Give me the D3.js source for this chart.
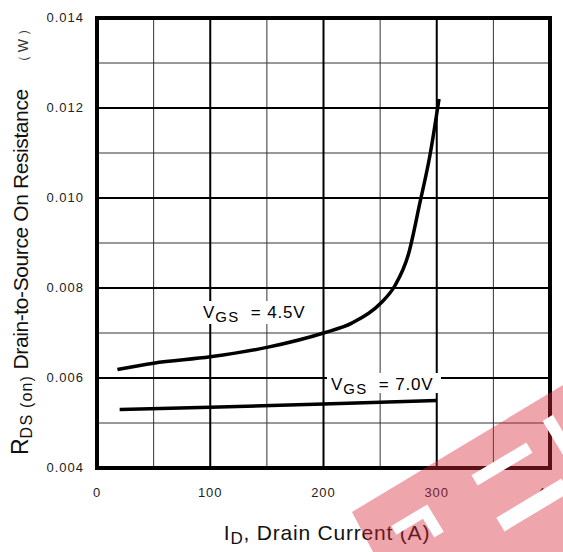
<!DOCTYPE html>
<html lang="en">
<head>
<meta charset="UTF-8">
<script src="https://cdn.jsdelivr.net/npm/d3@7.8.5/dist/d3.min.js"></script>
<title>RDS(on) vs Drain Current</title>
<style>
  body { margin: 0; background: #fff; }
  text { font-family: "Liberation Sans", Arial, sans-serif; white-space: pre; }
</style>
</head>
<body>
<svg width="563" height="552"></svg>
<script>
// data
var xTicks = [0, 100, 200, 300, 400];
var yTicks = [0.004, 0.006, 0.008, 0.010, 0.012, 0.014];
var xMinor = [50, 150, 250, 350];
var yMinor = [0.005, 0.007, 0.009, 0.011, 0.013];

var id45 = [18, 50, 100, 150, 200, 225, 250, 263, 275, 285, 294, 302];
var r45  = [0.00619, 0.00633, 0.00647, 0.00668, 0.00700, 0.00722, 0.00765, 0.00805, 0.00875, 0.00988, 0.01095, 0.0122];
var id70 = [20, 100, 200, 300];
var r70  = [0.00530, 0.00535, 0.00542, 0.00550];

var svg = d3.select("svg");
var pL = 97, pR = 550, pT = 18, pB = 468;

var x = d3.scaleLinear().domain([0, 400]).range([pL, pR]);
var y = d3.scaleLinear().domain([0.004, 0.014]).range([pB, pT]);

var g = svg.append("g");

// minor grid
g.selectAll(".vmin").data(xMinor).enter().append("line")
  .attr("x1", d => x(d)).attr("x2", d => x(d)).attr("y1", pT).attr("y2", pB)
  .attr("stroke", "#333").attr("stroke-width", 1);
g.selectAll(".hmin").data(yMinor).enter().append("line")
  .attr("y1", d => y(d)).attr("y2", d => y(d)).attr("x1", pL).attr("x2", pR)
  .attr("stroke", "#333").attr("stroke-width", 1);
// major grid
g.selectAll(".vmaj").data(xTicks.slice(1, -1)).enter().append("line")
  .attr("x1", d => x(d)).attr("x2", d => x(d)).attr("y1", pT).attr("y2", pB)
  .attr("stroke", "#000").attr("stroke-width", 2);
g.selectAll(".hmaj").data(yTicks.slice(1, -1)).enter().append("line")
  .attr("y1", d => y(d)).attr("y2", d => y(d)).attr("x1", pL).attr("x2", pR)
  .attr("stroke", "#000").attr("stroke-width", 2);

// curves
var line = d3.line().x(d => x(d[0])).y(d => y(d[1])).curve(d3.curveMonotoneX);
g.append("path").datum(d3.zip(id45, r45)).attr("d", line)
  .attr("fill", "none").attr("stroke", "#000").attr("stroke-width", 3.5);
g.append("path").datum(d3.zip(id70, r70)).attr("d", line)
  .attr("fill", "none").attr("stroke", "#000").attr("stroke-width", 3.5);

// curve labels with white backing
function curveLabel(px, py, val, bw, bh) {
  g.append("rect").attr("x", px - 4).attr("y", py - 17).attr("width", bw).attr("height", bh).attr("fill", "#fff");
  var t = g.append("text").attr("x", px).attr("y", py).attr("font-size", 17)
    .attr("letter-spacing", 0.8).attr("fill", "#000");
  t.append("tspan").text("V");
  t.append("tspan").attr("font-size", 15).attr("dy", 4).attr("letter-spacing", 1.5).text("GS");
  t.append("tspan").attr("dy", -4).text("  = " + val);
}
curveLabel(203, 318, "4.5V", 120, 23);
curveLabel(331, 390, "7.0V", 114, 20);

// frame
g.append("rect").attr("x", pL).attr("y", pT).attr("width", pR - pL).attr("height", pB - pT)
  .attr("fill", "none").attr("stroke", "#000").attr("stroke-width", 4);

// tick labels
g.selectAll(".yl").data(yTicks).enter().append("text")
  .attr("x", 84).attr("y", d => y(d) + 4).attr("text-anchor", "end")
  .attr("font-size", 13).attr("letter-spacing", 1).attr("fill", "#222")
  .text(d => d3.format(".3f")(d));
g.selectAll(".xl").data(xTicks).enter().append("text")
  .attr("x", d => x(d)).attr("y", 497).attr("text-anchor", "middle")
  .attr("font-size", 13).attr("letter-spacing", 1).attr("fill", "#222")
  .text(d => d);

// axis titles
var xt = svg.append("text").attr("x", 327).attr("y", 540).attr("text-anchor", "middle")
  .attr("font-size", 21).attr("letter-spacing", 0.8).attr("fill", "#111");
xt.append("tspan").text("I");
xt.append("tspan").attr("font-size", 17).attr("dy", 4).text("D");
xt.append("tspan").attr("dy", -4).text(", Drain Current (A)");

var yt = svg.append("text").attr("transform", "translate(28,455) rotate(-90)")
  .attr("font-size", 21).attr("fill", "#111");
yt.append("tspan").attr("font-size", 23).text("R");
yt.append("tspan").attr("font-size", 16).attr("letter-spacing", 1.2).attr("dy", 4).text("DS (on)");
yt.append("tspan").attr("dy", -4).attr("letter-spacing", -0.4).text(" Drain-to-Source On Resistance");
yt.append("tspan").attr("font-size", 14).attr("dx", 20).attr("letter-spacing", 3).attr("fill", "#333").text("（W）");

// watermark band in the lower right corner
var wm = svg.append("g");
wm.append("polygon").attr("points", "352,512 563,385 563,552 373,552").attr("fill", "rgba(215,40,55,0.42)");
wm.append("g").attr("transform", "translate(502,464) rotate(-31)")
  .append("rect").attr("x", -32).attr("y", -6).attr("width", 64).attr("height", 12).attr("fill", "#fff");
wm.append("g").attr("transform", "translate(533,505) rotate(-31)")
  .append("rect").attr("x", -38).attr("y", -8).attr("width", 76).attr("height", 16).attr("fill", "#fff");
wm.append("g").attr("transform", "translate(558,435) rotate(-31)")
  .append("rect").attr("x", -6).attr("y", -20).attr("width", 12).attr("height", 40).attr("fill", "#fff");
wm.append("g").attr("transform", "translate(418,524) rotate(-31)")
  .append("path").attr("d", "M-24,-12 L18,-12 L18,20 L7,20 L7,-2 L-24,-2 Z").attr("fill", "#fff");
</script>
</body>
</html>
